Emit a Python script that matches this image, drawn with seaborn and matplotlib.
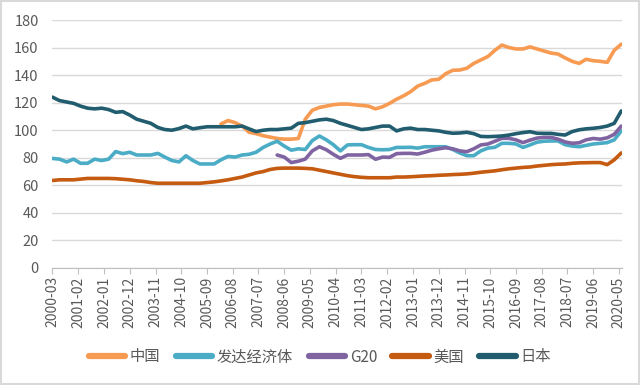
import numpy as np
import pandas as pd
import matplotlib
matplotlib.use("Agg")
import matplotlib.pyplot as plt
import matplotlib.dates as mdates
from matplotlib.patches import Rectangle
import seaborn as sns

# Quarterly readings, 2000-03 .. 2020-06
series_names = ["中国", "发达经济体", "G20", "美国", "日本"]
line_colors = ["#F79A52", "#4BACC6", "#8064A2", "#C55A11", "#215D6E"]

china = [np.nan] * 24 + [
    104.5, 107, 105.5, 103, 98.5, 97.5,
    96, 95, 94, 93.5, 93.5, 94, 108, 114.5, 116.5, 117.5,
    118.5, 119, 119, 118.5, 118, 117.5, 115.5, 117, 119.5, 122.5,
    125, 128, 132, 134, 136.5, 137, 141, 143.5, 143.7, 145,
    148.5, 151, 153.5, 158, 161.8, 160, 159, 159, 160.5, 159,
    157.5, 156, 155.3, 152.5, 150, 148.5, 151.5, 150.5, 150, 149.3,
    158, 162.5]

developed = [
    79.5, 79, 77, 79, 76, 76, 79, 78, 79, 84.5,
    83, 84, 82, 82, 82, 83.2, 80.5, 78, 77, 81.5,
    78, 75.5, 75.5, 75.5, 78.5, 81, 80.5, 82, 82.5, 84,
    87.5, 90, 92, 88.5, 85.5, 86.5, 86, 92.5, 95.8, 93,
    89.5, 85, 89.3, 89.5, 89.5, 87.5, 86, 85.8, 86, 87.5,
    87.5, 87.6, 87, 88, 88, 88, 88, 86, 83.5, 81.5,
    81.5, 85, 87, 87.6, 90.5, 90.5, 90, 87.5, 89.3, 91.3,
    92, 92.2, 92.2, 89.5, 88.5, 88, 89, 90, 90.5, 91,
    93, 99.5]

g20 = [np.nan] * 32 + [
    82, 80.5, 76.5, 77.5, 79, 85, 88, 85.8,
    82.5, 79.6, 82, 82, 82, 82.3, 78.9, 80.5, 80.3, 83,
    83.2, 83.2, 82.7, 84, 85.5, 86.5, 87.3, 86.5, 85, 84.4,
    86.5, 89.3, 90, 92, 94.1, 94.1, 93, 91, 92.8, 94.3,
    94.8, 94.8, 93.5, 91.5, 90.5, 90.9, 93, 94, 93.5, 94.5,
    97, 103]

usa = [
    63.5, 64, 64, 64, 64.5, 65, 65, 65, 65, 64.8,
    64.4, 64, 63.3, 62.8, 62, 61.5, 61.5, 61.5, 61.5, 61.5,
    61.5, 61.5, 62, 62.5, 63.2, 64, 65, 66, 67.5, 69,
    70, 71.5, 72.3, 72.5, 72.5, 72.5, 72.3, 72, 71, 70,
    69, 68, 67, 66.3, 65.8, 65.5, 65.5, 65.5, 65.5, 66,
    66, 66.2, 66.5, 66.8, 67, 67.3, 67.5, 67.8, 68, 68.3,
    68.8, 69.5, 70, 70.5, 71.3, 72, 72.5, 73, 73.3, 74,
    74.5, 75, 75.3, 75.5, 76, 76.3, 76.4, 76.5, 76.5, 75,
    78.5, 83.5]

japan = [
    124, 121.5, 120.5, 119.5, 117.5, 116, 115.5, 116, 115, 113,
    113.5, 111, 108, 106.5, 105, 102, 100.5, 100, 101.2, 103,
    101, 101.8, 102.5, 102.5, 102.5, 102.5, 102.5, 103, 101, 99,
    100, 100.5, 100.5, 101, 101.5, 105, 105.5, 106.5, 107.5, 108,
    107, 105, 103.5, 102, 100.5, 101, 102, 103, 103, 99.5,
    101, 101.5, 100.5, 100.5, 100, 99.5, 98.5, 97.8, 98, 98.5,
    97.5, 95.5, 95.3, 95.5, 95.8, 96.5, 97.5, 98.3, 98.9, 97.8,
    97.7, 97.7, 97, 96.5, 99, 100.3, 101, 101.4, 102, 103,
    105, 114]

dates = pd.date_range("2000-03-01", periods=len(japan), freq="3MS")
tick_dates = pd.date_range("2000-03-01", "2020-05-01", freq="11MS")

# long-form table for seaborn
frames = []
for name, vals in zip(series_names, [china, developed, g20, usa, japan]):
    frames.append(pd.DataFrame({"date": dates, "value": vals, "series": name}))
df = pd.concat(frames).dropna()

sns.set_style("white")
plt.rcParams["font.family"] = ["Noto Sans CJK SC", "DejaVu Sans"]

fig = plt.figure(figsize=(6.4, 3.85), dpi=100)
ax = fig.add_axes([0.081, 0.304, 0.891, 0.644])

sns.lineplot(data=df, x="date", y="value", hue="series", hue_order=series_names,
             palette=dict(zip(series_names, line_colors)), linewidth=2.6, ax=ax)

ax.set_ylim(0, 180)
ax.set_yticks(range(0, 181, 20))
ax.set_xlim(dates[0] - pd.Timedelta(days=8), dates[-1] + pd.Timedelta(days=10))
ax.set_xticks(tick_dates)
ax.xaxis.set_major_formatter(mdates.DateFormatter("%Y-%m"))
plt.setp(ax.get_xticklabels(), rotation=90)
ax.set_xlabel("")
ax.set_ylabel("")

ax.yaxis.grid(True, color="#D9D9D9", linewidth=1)
ax.xaxis.grid(False)
for side in ["left", "right", "top"]:
    ax.spines[side].set_visible(False)
ax.spines["bottom"].set_color("#BFBFBF")
ax.tick_params(axis="x", bottom=True, length=4, color="#BFBFBF", pad=2,
               labelsize=10, labelcolor="#595959")
ax.tick_params(axis="y", left=False, pad=6, labelsize=10.5, labelcolor="#595959")

handles, labels = ax.get_legend_handles_labels()
ax.get_legend().remove()
leg = fig.legend(handles, labels, loc="center", bbox_to_anchor=(0.5, 1 - 357 / 385),
                 ncol=5, frameon=False, fontsize=11, handlelength=2.4,
                 handletextpad=0.3, columnspacing=1.0)
for line in leg.get_lines():
    line.set_linewidth(4.5)
    line.set_solid_capstyle("round")
for txt in leg.get_texts():
    txt.set_color("#595959")

# light frame around the whole picture
fig.patches.append(Rectangle((0.002, 0.003), 0.996, 0.994, transform=fig.transFigure,
                             fill=False, edgecolor="#D9D9D9", linewidth=1.5))

fig.savefig("out.png", dpi=100)
